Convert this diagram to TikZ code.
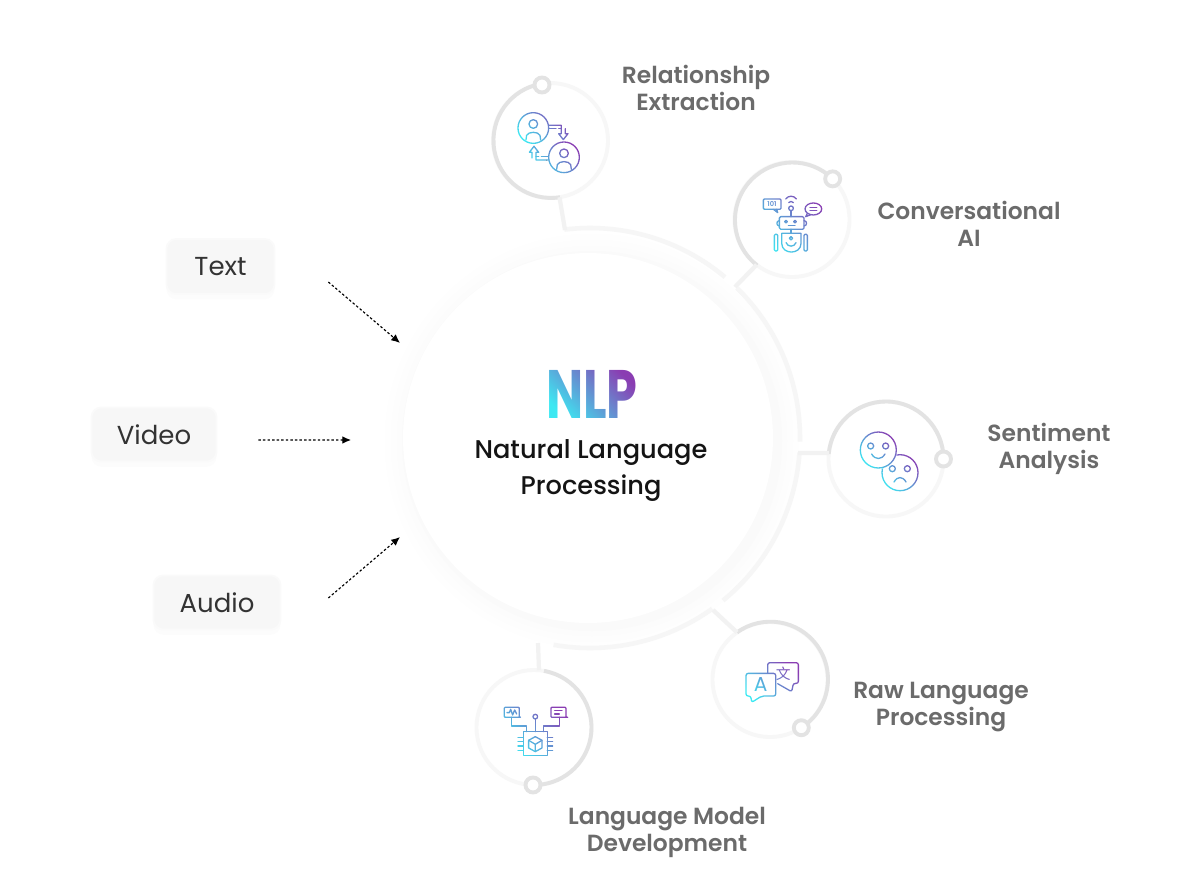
\documentclass[tikz,border=0pt]{standalone}
\usepackage{fontspec}
\setmainfont{Poppins}[BoldFont={Poppins SemiBold}]
\newfontfamily\cjkfont{Noto Sans CJK SC}
\newfontfamily\mediumfont{Poppins Medium}
\newfontfamily\heavyfont{Poppins Bold}
\usetikzlibrary{arrows.meta}
\usetikzlibrary{shadows}

\definecolor{gradcyan}{HTML}{3DE8F2}
\definecolor{gradpurple}{HTML}{8A3DB2}
\definecolor{ringdark}{HTML}{E3E3E3}
\definecolor{ringlight}{HTML}{F7F7F7}
\definecolor{bandgrey}{HTML}{F6F6F6}
\definecolor{labelgrey}{HTML}{6B6B6B}
\definecolor{boxgrey}{HTML}{F7F7F7}

\tikzset{
  iconscale/.style={x=.00667cm,y=-.00667cm,line width=.75pt,line join=round,line cap=round},
  iconshade/.style={bottom color=gradcyan,top color=gradpurple,shading angle=-45,draw=none,blend mode=screen},
  ringnode/.style={circle,draw=ringlight,line width=2.2pt,minimum size=2.3cm,inner sep=0,outer sep=0},
  ringarc/.style={draw=ringdark,line width=2.2pt},
  ringknob/.style={circle,draw=ringdark,fill=white,line width=2.2pt,minimum size=.3cm,inner sep=0,outer sep=0},
  bandline/.style={draw=bandgrey,line width=2.6pt},
  stubline/.style={draw=bandgrey!80!ringdark,line width=2.4pt},
  capline/.style={font=\bfseries\fontsize{13.3}{15.3}\selectfont,text=labelgrey,align=center,inner sep=0},
  inputbox/.style={rectangle,rounded corners=5.5pt,fill=boxgrey,draw=white!98!black,line width=1pt,
    font=\fontsize{14.8}{16}\selectfont,text=black!80,inner sep=0,
    drop shadow={opacity=.02,shadow xshift=0pt,shadow yshift=-3pt}},
  flowarrow/.style={-{Latex[length=5pt,width=4.4pt]},dash pattern=on 1.4pt off 1.2pt,line width=.65pt,black},
}

\begin{document}
\begin{tikzpicture}[x=.02cm,y=-.02cm]
  \fill[white] (0,0) rectangle (1200,869);
  \useasboundingbox (0,0) rectangle (1200,869);

  % shadow round the disc
  \foreach \r/\g in {207/.5,201/.8,195/1.2,190/1.8}
    \fill[black!\g!white] (592,441) circle (\r);
  \node (nlpdisc) [circle,fill=white,minimum size=7.4cm,inner sep=0,outer sep=0] at (588,438) {};

  \draw[bandline] ([shift={(-97:210)}]590,438) arc [start angle=-97,end angle=-50,radius=210];
  \draw[bandline] ([shift={(-45.6:210)}]590,438) arc [start angle=-45.6,end angle=1,radius=210];
  \draw[bandline] ([shift={(4:210)}]590,438) arc [start angle=4,end angle=50.7,radius=210];
  \draw[bandline] ([shift={(54.4:210)}]590,438) arc [start angle=54.4,end angle=100,radius=210];

  \coordinate (relband) at (565,230);
  \coordinate (botband) at (735,287);
  \coordinate (sentband) at (798,453);
  \coordinate (langband) at (713,610);
  \coordinate (chipband) at (538,643);

  \node (relring) [ringnode] at (550.5,140.5) {};
  \draw[ringarc] (relring.99.5) arc [start angle=-99.5,end angle=-279,radius=57.5];
  \node (relknob) [ringknob] at (542,85) {};
  \draw[stubline] (relring.279) -- (relband);

  \node (botring) [ringnode] at (792,219.5) {};
  \draw[ringarc] (botring.45.7) arc [start angle=-45.7,end angle=-232,radius=57.5];
  \node (botknob) [ringknob] at (botring.45.7) {};
  \draw[stubline] (botring.232) -- (botband);

  \node (sentring) [ringnode] at (886,459) {};
  \draw[ringarc] (sentring.0) arc [start angle=0,end angle=-175,radius=57.5];
  \node (sentknob) [ringknob] at (sentring.0) {};
  \draw[stubline] (sentring.174) -- (sentband);

  \node (langring) [ringnode] at (770,679.5) {};
  \draw[ringarc] (langring.125.6) arc [start angle=-125.6,end angle=57,radius=57.5];
  \node (langknob) [ringknob] at (langring.-57) {};
  \draw[stubline] (langring.125.6) -- (langband);

  \node (chipring) [ringnode] at (534,727.5) {};
  \draw[ringarc] (chipring.80) arc [start angle=-80,end angle=91,radius=57.5];
  \node (chipknob) [ringknob] at (chipring.-91) {};
  \draw[stubline] (chipring.85) -- (chipband);

  % icons: drawn black, the shade on top tints them
  \node (nlpword) [inner sep=0,font=\heavyfont\fontsize{39}{39}\selectfont] at (592,394)
    {\scalebox{.72}[1]{NLP}};
  \shade[iconshade] (546,368) rectangle (638,420);

  \begin{scope}[shift={(533.3,128)},iconscale]
    \draw (0,0) circle (46);
    \draw (0,-12) circle (13);
    \draw (-22,36) -- (-20,22) .. controls (-15,10) and (15,10) .. (20,22) -- (22,36);
    \draw (47,-8) -- (84,-8) -- (84,17) -- (76,17) -- (90,35) -- (104,17) -- (96,17) -- (96,2);
    \draw (47,2) -- (68,2) (76,2) -- (84,2);
  \end{scope}
  \begin{scope}[shift={(564,157.3)},iconscale]
    \draw (0,0) circle (46);
    \draw (0,-12) circle (13);
    \draw (-22,36) -- (-20,22) .. controls (-15,10) and (15,10) .. (20,22) -- (22,36);
    \draw (-47,8) -- (-84,8) -- (-84,-15) -- (-76,-15) -- (-90,-33) -- (-104,-15) -- (-96,-15) -- (-96,2);
    \draw (-47,-2) -- (-68,-2) (-76,-2) -- (-84,-2);
  \end{scope}
  \shade[iconshade] (533.3,128) circle (17.5) (550.6,116) rectangle (570,141);
  \shade[iconshade] (564,157.3) circle (17.5) (526,145.5) rectangle (546.4,166);

  \begin{scope}[shift={(791.7,223.3)},iconscale]
    \draw[rounded corners=.6pt] (-85,-73) rectangle (-32,-42);
    \draw (-45,-42) -- (-42,-32) -- (-55,-42);
    \node (botcode) [inner sep=0,font=\bfseries\fontsize{3.8}{4}\selectfont] at (-59,-58) {101};
    \draw (-2,-45) circle (7);
    \draw (-2,-38) -- (-2,-20);
    \draw (-18,-73) .. controls (-10,-84) and (6,-84) .. (14,-73);
    \draw (-9,-62) .. controls (-5,-67) and (1,-67) .. (5,-62);
    \draw[rounded corners=.8pt] (-37,-20) rectangle (37,18);
    \draw (-17,-5) circle (4) (10,-5) circle (4);
    \draw (-10,7) -- (10,7);
    \draw (-37,-8) .. controls (-47,-8) and (-47,8) .. (-37,8);
    \draw (37,-8) .. controls (47,-8) and (47,8) .. (37,8);
    \draw (-2,18) -- (-2,30);
    \draw (-30,30) -- (28,30) -- (28,60) .. controls (28,95) and (-30,95) .. (-30,60) -- cycle;
    \draw (-2,45) circle (5);
    \draw (-17,58) .. controls (-12,72) and (8,72) .. (13,58);
    \draw[rounded corners=.6pt] (-52,33) rectangle (-42,83);
    \draw[rounded corners=.6pt] (37,33) rectangle (47,83);
    \draw (65,-43) ellipse [x radius=25,y radius=18];
    \draw (47,-30) -- (42,-20) -- (58,-26);
    \draw (55,-48) -- (75,-48) (55,-38) -- (75,-38);
  \end{scope}
  \shade[iconshade] (758,190) rectangle (825,256);

  \begin{scope}[shift={(900,472.7)},iconscale]
    \draw (0,0) circle (54);
    \draw (-23,-12) circle (9) (22,-12) circle (9);
    \draw (-18,28) .. controls (-8,10) and (8,10) .. (18,28);
  \end{scope}
  \shade[iconshade] (880,453) rectangle (920,493);
  \begin{scope}[shift={(878.3,450)},iconscale]
    \draw[fill=white] (0,0) circle (54);
    \draw (-23,-12) circle (9) (22,-12) circle (9);
    \draw (-20,12) .. controls (-10,30) and (10,30) .. (20,12);
  \end{scope}
  \shade[iconshade] (878.3,450) circle (19.5);

  \begin{scope}[shift={(771.7,681.7)},iconscale]
    \draw[rounded corners=1.2pt] (-77,43) -- (-77,-25) -- (12,-25) -- (12,43) -- (-30,43) -- (-60,62) -- (-63,43) -- cycle;
    \draw[rounded corners=1.2pt] (-12,-25) -- (-12,-57) -- (80,-57) -- (80,5) -- (65,5) -- (60,30) -- (18,6);
    \node (langa) [inner sep=0,font=\fontsize{11.5}{12}\selectfont] at (-33,9) {A};
    \node (langb) [inner sep=0,font=\cjkfont\fontsize{8.4}{9}\selectfont] at (35,-24) {文};
  \end{scope}
  \shade[iconshade] (744,660) rectangle (800,704);

  \begin{scope}[shift={(535.3,733.3)},iconscale]
    \draw (-36,-5) rectangle (36,67);
    \draw (0,10) -- (20,21) -- (20,44) -- (0,55) -- (-20,44) -- (-20,21) -- cycle;
    \draw (-20,21) -- (0,33) -- (20,21) (0,33) -- (0,55);
    \draw (-52,12) -- (-36,12) (-52,25) -- (-36,25) (-52,38) -- (-36,38) (-52,51) -- (-36,51);
    \draw (52,12) -- (36,12) (52,25) -- (36,25) (52,38) -- (36,38) (52,51) -- (36,51);
    \draw (-26,-5) -- (-26,-22) -- (-71,-22) -- (-71,-48);
    \draw (24,-5) -- (24,-22) -- (72,-22) -- (72,-48);
    \draw (0,-5) -- (0,-43);
    \draw (0,-50) circle (7);
    \draw[rounded corners=.5pt] (-93,-48) -- (-93,-78) -- (-48,-78) -- (-48,-48) -- (-42,-48) -- cycle;
    \draw (-85,-62) -- (-78,-62) -- (-74,-72) -- (-68,-55) -- (-62,-70) -- (-56,-58);
    \draw[rounded corners=.5pt] (47,-48) -- (47,-78) -- (92,-78) -- (92,-48) -- (100,-48) -- cycle;
    \draw (58,-68) -- (80,-68) (58,-58) -- (72,-58);
  \end{scope}
  \shade[iconshade] (502,704) rectangle (570,758);

  \node (nlptitle) [align=center,text=black!92,inner sep=0,
    font=\mediumfont\fontsize{14.6}{20.4}\selectfont] at (591,470.5)
    {Natural Language\\Processing};

  \node (relcap) [capline] at (696,88) {Relationship\\Extraction};
  \node (botcap) [capline] at (969,224) {Conversational\\AI};
  \node (sentcap) [capline] at (1049,448.5) {Sentiment\\Analysis};
  \node (langcap) [capline] at (941,707) {Raw Language\\Processing};
  \node (chipcap) [capline] at (667,832) {Language Model\\Development};

  \node (textbox) [inputbox,minimum width=2.16cm,minimum height=1.1cm] at (220.5,266.5) {Text};
  \node (videobox) [inputbox,minimum width=2.5cm,minimum height=1.08cm] at (154,434.5) {Video};
  \node (audiobox) [inputbox,minimum width=2.54cm,minimum height=1.08cm] at (217,602.5) {Audio};

  \path (node cs:name=textbox,anchor=east) +(53,15.5) coordinate (texto);
  \path (node cs:name=nlpdisc,anchor=west) +(-3,-95) coordinate (texti);
  \draw[flowarrow] (texto) -- (texti);
  \path (node cs:name=videobox,anchor=east) +(41,5.5) coordinate (videoo);
  \path (node cs:name=nlpdisc,anchor=west) +(-52,2) coordinate (videoi);
  \draw[flowarrow] (videoo) -- (videoi);
  \path (node cs:name=audiobox,anchor=east) +(47,-4.5) coordinate (audioo);
  \path (node cs:name=nlpdisc,anchor=west) +(-3,99) coordinate (audioi);
  \draw[flowarrow] (audioo) -- (audioi);
\end{tikzpicture}
\end{document}
